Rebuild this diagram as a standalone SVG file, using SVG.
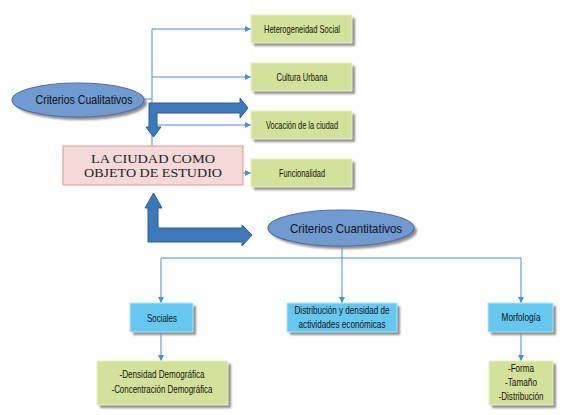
<svg xmlns="http://www.w3.org/2000/svg" width="570" height="415" viewBox="0 0 570 415">
<defs>
<marker id="ah" viewBox="0 0 10 10" refX="10" refY="5" markerWidth="6" markerHeight="6" orient="auto" markerUnits="userSpaceOnUse"><path d="M0,0 L10,5 L0,10 Z" fill="#4a90d0"/></marker>
<filter id="blur" x="-20%" y="-20%" width="140%" height="140%"><feGaussianBlur stdDeviation="1"/></filter>
</defs>
<style>
.ln{fill:none;stroke:#4a90d0;stroke-width:1}
.sh{fill:#8e8e8e;filter:url(#blur)}
.gr{fill:#d4e19a;stroke:#e8efc4;stroke-width:1}
.bl{fill:#66c8f1;stroke:#b4e3f7;stroke-width:1}
.el{fill:#6f9bd1;stroke:#5b6aa6;stroke-width:1.2}
.big{fill:#3d79b8;stroke:#2c5f95;stroke-width:1}
.t{font-family:"Liberation Sans",Arial,sans-serif;fill:#111;text-anchor:middle}
.s{font-size:10.5px}
.e{font-size:13.5px}
.serif{font-family:"Liberation Serif","Times New Roman",serif;font-size:12.5px;fill:#222;text-anchor:middle}
</style>
<rect width="570" height="415" fill="#fff"/>
<g id="connectors">
<path class="ln" d="M144,99 H152"/>
<path class="ln" d="M152,29 V146"/>
<path class="ln" d="M152,29 H251" marker-end="url(#ah)"/>
<path class="ln" d="M152,77 H251" marker-end="url(#ah)"/>
<path class="ln" d="M152,125 H251" marker-end="url(#ah)"/>
<path class="ln" d="M243,173 H251" marker-end="url(#ah)"/>
<path class="ln" d="M342,246 V258 M161,258 H521"/>
<path class="ln" d="M161,258 V303" marker-end="url(#ah)"/>
<path class="ln" d="M342,258 V303" marker-end="url(#ah)"/>
<path class="ln" d="M521,258 V303" marker-end="url(#ah)"/>
<path class="ln" d="M161,332 V361" marker-end="url(#ah)"/>
<path class="ln" d="M521,332 V361" marker-end="url(#ah)"/>
<polygon class="big" points="149,103 240,103 240,98 248,108 240,118 240,113 157,113 157,127 161,127 153.5,137 146,127 149,127"/>
<polygon class="big" points="153.5,193 162,208 158,208 158,228 242,228 242,225 252,235 242,246 242,242 148,242 148,208 145,208"/>
</g>
<g id="n-cualitativos">
<ellipse cx="81" cy="103" rx="66" ry="17" class="sh"/>
<ellipse cx="78" cy="100" rx="66" ry="17" class="el"/>
<text x="84" y="104" class="t e" textLength="97" lengthAdjust="spacingAndGlyphs">Criterios Cualitativos</text>
</g>
<g id="n-ciudad">
<rect x="63" y="146" width="180" height="39" fill="#f5d8d8" stroke="#e09590" stroke-width="1"/>
<text x="153" y="163" class="serif" textLength="124" lengthAdjust="spacingAndGlyphs">LA CIUDAD COMO</text>
<text x="153" y="177" class="serif" textLength="138" lengthAdjust="spacingAndGlyphs">OBJETO DE ESTUDIO</text>
</g>
<g id="n-hetero">
<rect x="254" y="18" width="101" height="28" class="sh"/>
<rect x="251" y="15" width="101" height="28" class="gr"/>
<text x="302" y="32.5" class="t s" textLength="76" lengthAdjust="spacingAndGlyphs">Heterogeneidad Social</text>
</g>
<g id="n-cultura">
<rect x="254" y="66" width="101" height="28" class="sh"/>
<rect x="251" y="63" width="101" height="28" class="gr"/>
<text x="302" y="80.5" class="t s" textLength="51" lengthAdjust="spacingAndGlyphs">Cultura Urbana</text>
</g>
<g id="n-vocacion">
<rect x="254" y="114" width="101" height="28" class="sh"/>
<rect x="251" y="111" width="101" height="28" class="gr"/>
<text x="302" y="128.5" class="t s" textLength="72" lengthAdjust="spacingAndGlyphs">Vocación de la ciudad</text>
</g>
<g id="n-funcionalidad">
<rect x="254" y="162" width="101" height="28" class="sh"/>
<rect x="251" y="159" width="101" height="28" class="gr"/>
<text x="302" y="176.5" class="t s" textLength="46" lengthAdjust="spacingAndGlyphs">Funcionalidad</text>
</g>
<g id="n-cuantitativos">
<ellipse cx="344" cy="231" rx="73" ry="18" class="sh"/>
<ellipse cx="341" cy="228" rx="73" ry="18" class="el"/>
<text x="346" y="233" class="t e" textLength="112" lengthAdjust="spacingAndGlyphs">Criterios Cuantitativos</text>
</g>
<g id="n-sociales">
<rect x="133" y="306" width="63" height="29" class="sh"/>
<rect x="130" y="303" width="63" height="29" class="bl"/>
<text x="162" y="321.5" class="t s" textLength="30" lengthAdjust="spacingAndGlyphs">Sociales</text>
</g>
<g id="n-distribucion">
<rect x="290" y="306" width="110" height="29" class="sh"/>
<rect x="287" y="303" width="110" height="29" class="bl"/>
<text x="342" y="314" class="t s" textLength="95" lengthAdjust="spacingAndGlyphs">Distribución y densidad de</text>
<text x="342" y="328" class="t s" textLength="87" lengthAdjust="spacingAndGlyphs">actividades económicas</text>
</g>
<g id="n-morfologia">
<rect x="491" y="306" width="65" height="29" class="sh"/>
<rect x="488" y="303" width="65" height="29" class="bl"/>
<text x="521" y="321" class="t s" textLength="39" lengthAdjust="spacingAndGlyphs">Morfología</text>
</g>
<g id="n-demografica">
<rect x="100" y="364" width="131" height="44" class="sh"/>
<rect x="97" y="361" width="131" height="44" class="gr"/>
<text x="162" y="378" class="t s" textLength="85" lengthAdjust="spacingAndGlyphs">-Densidad Demográfica</text>
<text x="162" y="393" class="t s" textLength="101" lengthAdjust="spacingAndGlyphs">-Concentración Demográfica</text>
</g>
<g id="n-forma">
<rect x="492" y="364" width="64" height="44" class="sh"/>
<rect x="489" y="361" width="64" height="44" class="gr"/>
<text x="521" y="372" class="t s" textLength="26" lengthAdjust="spacingAndGlyphs">-Forma</text>
<text x="521" y="386" class="t s" textLength="32" lengthAdjust="spacingAndGlyphs">-Tamaño</text>
<text x="521" y="400" class="t s" textLength="45" lengthAdjust="spacingAndGlyphs">-Distribución</text>
</g>
</svg>
